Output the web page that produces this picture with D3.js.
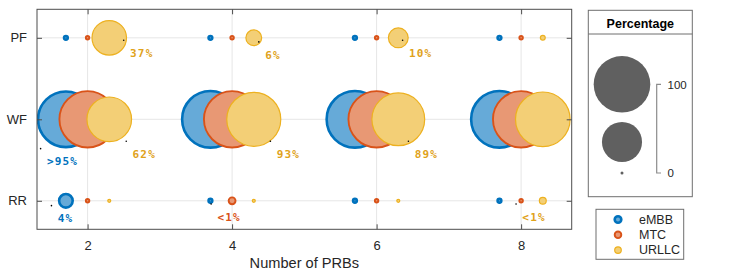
<!DOCTYPE html>
<html>
<head>
<meta charset="utf-8">
<script src="https://cdn.jsdelivr.net/npm/d3@7"></script>
<style>
  body { margin: 0; background: #fff; }
  text { font-family: "Liberation Sans", Arial, sans-serif; fill: #262626; }
  .lbl { font-family: "DejaVu Sans Mono", monospace; font-weight: bold; font-size: 11px; letter-spacing: 1.2px; }
</style>
</head>
<body>
<div id="chart"></div>
<script>
// data
var prbs = [2, 4, 6, 8];
var schedulers = ["RR", "WF", "PF"];      // bottom to top
var seriesNames = ["eMBB", "MTC", "URLLC"];
// percentage per scheduler row (RR, WF, PF) and PRB count
var eMBB  = [[5.5, 0.15, 0.15, 0.15], [97, 100, 100, 100], [0.15, 0.15, 0.15, 0.15]];
var MTC   = [[0.1, 1.2, 0.1, 0.1],    [99, 99, 99, 99],     [0.1, 0.1, 0.1, 0.1]];
var URLLC = [[0, 0, 0, 1.2],          [62, 91, 87, 93],     [37, 7.5, 12, 0.45]];
// annotations (anchor in data coordinates)
var labelText   = ["37%", "6%", "10%", ">95%", "62%", "93%", "89%", "4%", "<1%", "<1%"];
var labelSeries = ["URLLC", "URLLC", "URLLC", "eMBB", "URLLC", "URLLC", "URLLC", "eMBB", "MTC", "URLLC"];
var labelX      = [2.50, 4.37, 6.36, 1.35, 2.535, 4.53, 6.44, 1.50, 3.71, 7.93];
var labelY      = [2.97, 2.95, 2.97, 1.64, 1.73, 1.73, 1.73, 0.94, 0.96, 0.96];
var legendSizes = [100, 50, 0];

var width = 747, height = 274;
var margin = {left: 37, top: 9.3, right: 175.3, bottom: 44.7};

var colors = {eMBB: "#0072BD", MTC: "#D95319", URLLC: "#EDB120"};
var fills  = {eMBB: "#66aad8", MTC: "#e89874", URLLC: "#f3cf76"};
var strokeW = {eMBB: 2.6, MTC: 1.9, URLLC: 1.2};
var values = {eMBB: eMBB, MTC: MTC, URLLC: URLLC};

var svg = d3.select("#chart").append("svg")
    .attr("width", width)
    .attr("height", height);

var x = d3.scaleLinear().domain([1.3, 8.7]).range([margin.left, width - margin.right]);
var y = d3.scaleLinear().domain([0.65, 3.35]).range([height - margin.bottom, margin.top]);
var dodge = d3.scalePoint().domain(seriesNames).range([-0.3, 0.3]);
var r = d3.scaleLinear().domain([0, 100]).range([1.5 * 1.5, 28.3 * 28.3]);
function rad(p) { return Math.sqrt(r(p)); }

var x0 = x.range()[0], x1 = x.range()[1], y0 = y.range()[0], y1 = y.range()[1];

// grid
svg.append("g").selectAll("line").data(prbs).enter().append("line")
    .attr("x1", function(d) { return x(d); }).attr("x2", function(d) { return x(d); })
    .attr("y1", y1).attr("y2", y0)
    .attr("stroke", "#e6e6e6").attr("stroke-width", 1);
svg.append("g").selectAll("line").data(schedulers).enter().append("line")
    .attr("x1", x0).attr("x2", x1)
    .attr("y1", function(d, i) { return y(i + 1); }).attr("y2", function(d, i) { return y(i + 1); })
    .attr("stroke", "#e6e6e6").attr("stroke-width", 1);

// bubbles
svg.append("clipPath").attr("id", "plotclip").append("rect")
    .attr("x", x0).attr("y", y1).attr("width", x1 - x0).attr("height", y0 - y1);
var plot = svg.append("g").attr("clip-path", "url(#plotclip)");

seriesNames.forEach(function(s) {
  var pts = [];
  values[s].forEach(function(row, i) {
    row.forEach(function(v, j) { pts.push({x: prbs[j] + dodge(s), y: i + 1, v: v}); });
  });
  plot.append("g").selectAll("circle").data(pts).enter().append("circle")
      .attr("cx", function(d) { return x(d.x); })
      .attr("cy", function(d) { return y(d.y); })
      .attr("r", function(d) { return rad(d.v); })
      .attr("fill", fills[s])
      .attr("stroke", colors[s])
      .attr("stroke-width", strokeW[s]);
});

// annotations
labelText.forEach(function(t, i) {
  var ax = x(labelX[i]), ay = y(labelY[i]);
  svg.append("circle").attr("cx", ax).attr("cy", ay).attr("r", 0.8).attr("fill", "#000");
  svg.append("text").attr("class", "lbl")
      .attr("x", ax + 6.3).attr("y", ay + 16.8)
      .style("fill", labelSeries[i] === "URLLC" ? "#E0A21A" : colors[labelSeries[i]])
      .text(t);
});

// axes box
var axisColor = "#4d4d4d";
svg.append("rect").attr("x", x0).attr("y", y1).attr("width", x1 - x0).attr("height", y0 - y1)
    .attr("fill", "none").attr("stroke", axisColor).attr("stroke-width", 1);

var xb = svg.append("g").attr("transform", "translate(0," + y0 + ")")
    .call(d3.axisBottom(x).tickValues(prbs).tickSize(-5).tickPadding(11).tickFormat(d3.format("d")));
var xt = svg.append("g").attr("transform", "translate(0," + y1 + ")")
    .call(d3.axisTop(x).tickValues(prbs).tickSize(-5).tickFormat(""));
var yl = svg.append("g").attr("transform", "translate(" + x0 + ",0)")
    .call(d3.axisLeft(y).tickValues([1, 2, 3]).tickSize(-5).tickPadding(10)
      .tickFormat(function(d) { return schedulers[d - 1]; }));
var yr = svg.append("g").attr("transform", "translate(" + x1 + ",0)")
    .call(d3.axisRight(y).tickValues([1, 2, 3]).tickSize(-5).tickFormat(""));

[xb, xt, yl, yr].forEach(function(g) {
  g.select(".domain").remove();
  g.selectAll(".tick line").attr("stroke", axisColor);
  g.selectAll(".tick text").style("font-family", "Liberation Sans, Arial, sans-serif")
    .style("font-size", "13px").style("fill", "#262626");
});

svg.append("text")
    .attr("x", (x0 + x1) / 2).attr("y", 267.5)
    .attr("text-anchor", "middle")
    .style("font-size", "14.6px")
    .text("Number of PRBs");

// size legend
var lg = svg.append("g");
lg.append("rect").attr("x", 588.3).attr("y", 10.3).attr("width", 104).attr("height", 186.4)
    .attr("fill", "#fff").attr("stroke", "#6e6e6e").attr("stroke-width", 1);
lg.append("line").attr("x1", 588.3).attr("x2", 692.3).attr("y1", 34).attr("y2", 34)
    .attr("stroke", "#6e6e6e");
lg.append("text").attr("x", 640.3).attr("y", 27.5).attr("text-anchor", "middle")
    .style("font-weight", "bold").style("font-size", "12.5px").style("fill", "#000")
    .text("Percentage");
var legCy = [84.3, 142, 173];
lg.selectAll("circle.sz").data(legendSizes).enter().append("circle")
    .attr("cx", 622).attr("cy", function(d, i) { return legCy[i]; })
    .attr("r", function(d) { return rad(d); })
    .attr("fill", "#606060");
lg.append("path")
    .attr("d", "M661," + legCy[0] + "H656.7V" + legCy[2] + "H661")
    .attr("fill", "none").attr("stroke", "#8c8c8c").attr("stroke-width", 1.2);
lg.append("text").attr("x", 667.5).attr("y", legCy[0] + 4.2).style("font-size", "11.5px").text("100");
lg.append("text").attr("x", 667.5).attr("y", legCy[2] + 4.2).style("font-size", "11.5px").text("0");

// series legend
var sl = svg.append("g");
sl.append("rect").attr("x", 596).attr("y", 209.3).attr("width", 87.7).attr("height", 50)
    .attr("fill", "#fff").attr("stroke", "#6e6e6e").attr("stroke-width", 1);
seriesNames.forEach(function(s, i) {
  var cy = 219.5 + i * 15.3;
  sl.append("circle").attr("cx", 618).attr("cy", cy).attr("r", 3.3)
      .attr("fill", fills[s]).attr("stroke", colors[s]).attr("stroke-width", strokeW[s]);
  sl.append("text").attr("x", 639).attr("y", cy + 4.2).style("font-size", "12.5px").text(s);
});
</script>
</body>
</html>
